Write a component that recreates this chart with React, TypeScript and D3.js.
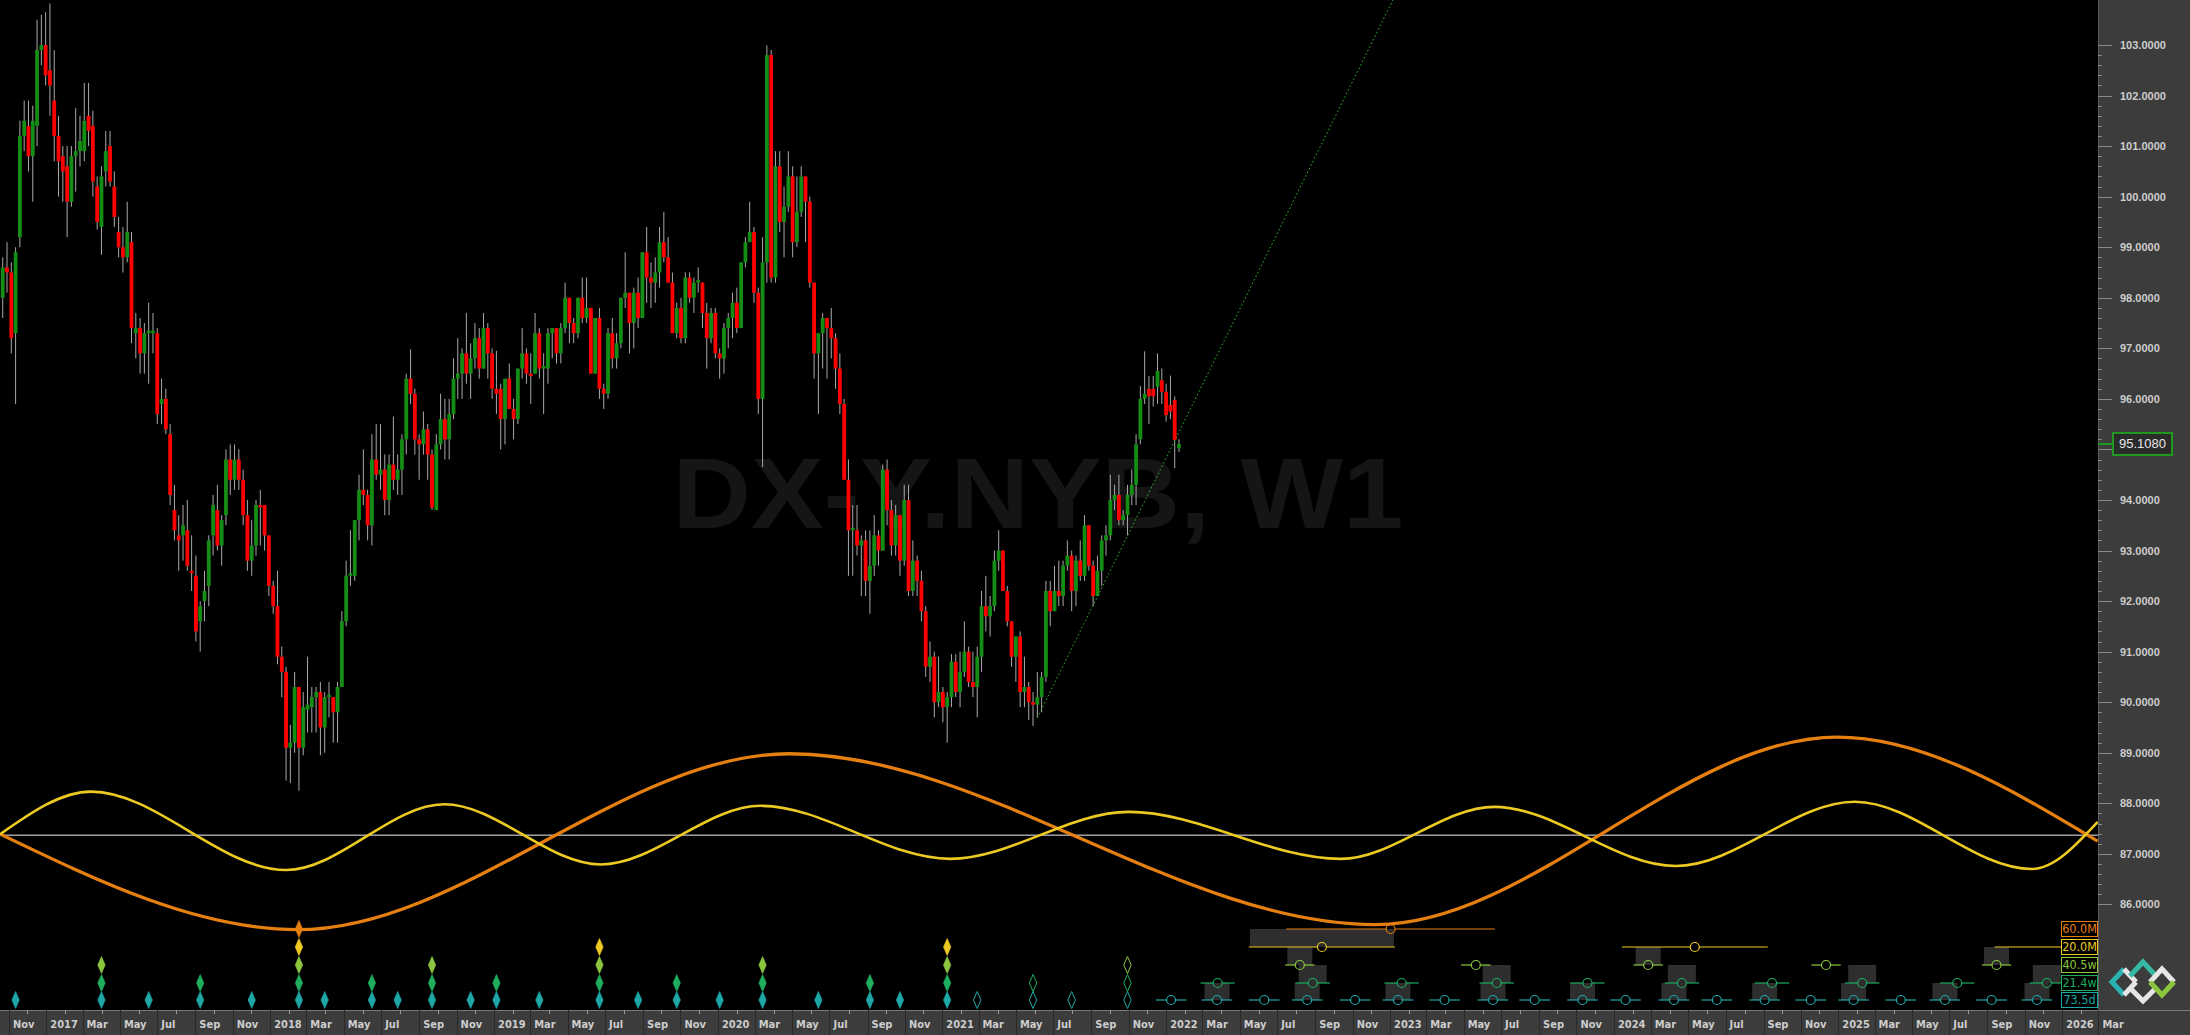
import React, { useEffect } from 'react';
import * as d3 from 'd3';

const W = 2190;
const H = 1035;
const PLOT_RIGHT = 2098;
const AXIS_TOP = 1010;

// ---------- candle data (weekly, [open, high, low, close]) ----------
const firstWeek = '2016-10-17';
const lastWeek = '2022-01-17';

const candles2016 = [
  [98.0, 98.8, 97.6, 98.6], [98.6, 99.1, 98.1, 98.5], [98.5, 98.7, 96.9, 97.2], [97.3, 99.0, 95.9, 98.9],
  [99.2, 101.5, 99.0, 101.2], [101.2, 101.9, 100.9, 101.5], [101.4, 101.9, 100.5, 100.8], [100.8, 101.8, 99.9, 101.5],
  [101.4, 103.5, 101.0, 102.9], [102.9, 103.6, 102.6, 103.0], [103.0, 103.65, 102.2, 102.4],
];
const candles2017 = [
  [102.5, 103.82, 101.6, 102.2], [101.9, 102.9, 100.7, 101.2], [101.2, 101.6, 100.0, 100.7], [100.8, 101.0, 99.9, 100.5],
  [100.6, 101.0, 99.2, 99.9], [99.9, 101.0, 99.8, 100.8], [100.8, 101.75, 100.1, 100.9], [100.9, 101.6, 100.6, 101.1],
  [100.9, 102.25, 100.7, 101.5], [101.6, 102.25, 101.0, 101.3], [101.4, 101.7, 100.0, 100.3], [100.2, 100.4, 99.35, 99.5],
  [99.4, 100.6, 98.85, 100.4], [100.5, 101.3, 100.2, 100.9], [101.0, 101.3, 100.2, 100.3], [100.2, 100.5, 99.4, 99.6],
  [99.3, 99.6, 98.8, 99.0], [99.0, 99.4, 98.5, 98.8], [98.8, 99.9, 98.7, 99.3], [99.1, 99.3, 97.1, 97.4],
  [97.3, 97.7, 96.8, 97.4], [97.4, 97.6, 96.5, 96.9], [96.9, 97.5, 96.5, 97.3], [97.3, 97.9, 96.3, 97.35],
  [97.3, 97.7, 96.9, 97.35], [97.3, 97.4, 95.5, 95.7], [95.9, 96.4, 95.5, 96.0], [96.0, 96.2, 95.3, 95.4],
  [95.3, 95.5, 93.9, 94.1], [93.8, 94.3, 93.2, 93.4], [93.3, 93.7, 92.6, 93.2], [93.3, 93.9, 92.8, 93.5],
  [93.4, 94.0, 92.6, 92.7], [92.6, 93.3, 92.2, 92.55], [92.5, 92.9, 91.2, 91.4], [91.6, 92.0, 91.0, 91.9],
  [92.0, 92.6, 91.6, 92.2], [92.3, 93.3, 91.9, 93.2], [93.3, 94.1, 92.9, 93.9], [93.8, 94.3, 93.0, 93.1],
  [93.1, 93.7, 92.7, 93.6], [93.7, 95.0, 93.5, 94.8], [94.8, 95.1, 94.1, 94.4], [94.4, 95.1, 94.2, 94.8],
  [94.8, 95.0, 94.2, 94.4], [94.4, 94.6, 93.5, 93.7], [93.7, 94.0, 92.6, 92.8], [92.8, 93.6, 92.5, 93.1],
  [93.1, 94.0, 92.9, 93.9], [93.9, 94.2, 93.1, 93.85], [93.9, 93.9, 93.0, 93.3], [93.3, 93.3, 92.1, 92.3],
];
const candles2018 = [
  [92.3, 92.4, 91.75, 91.9], [91.9, 92.6, 90.75, 90.9], [90.9, 91.1, 90.1, 90.6], [90.6, 90.7, 88.45, 89.1],
  [89.1, 89.55, 88.4, 89.2], [89.2, 90.6, 89.0, 90.3], [90.3, 90.3, 88.25, 89.1], [89.1, 90.2, 88.95, 89.9],
  [89.85, 90.9, 89.4, 89.95], [89.9, 90.3, 89.4, 90.1], [90.1, 90.3, 89.4, 90.2], [90.2, 90.4, 88.95, 89.5],
  [89.5, 90.2, 89.0, 90.1], [90.1, 90.4, 89.7, 90.15], [90.1, 90.1, 89.2, 89.8], [89.8, 90.4, 89.2, 90.3],
  [90.3, 91.8, 90.3, 91.6], [91.6, 92.8, 91.5, 92.5], [92.5, 93.4, 92.3, 92.55], [92.5, 93.6, 92.4, 93.6],
  [93.6, 94.5, 93.2, 94.2], [94.2, 95.0, 93.9, 94.1], [94.1, 94.2, 93.2, 93.5], [93.5, 95.3, 93.1, 94.8],
  [94.8, 95.5, 94.4, 94.5], [94.5, 95.5, 94.2, 94.6], [94.6, 94.9, 93.7, 94.0], [94.0, 94.9, 93.7, 94.7],
  [94.7, 95.65, 94.2, 94.4], [94.4, 94.9, 94.1, 94.6], [94.6, 95.3, 94.1, 95.2], [95.2, 96.5, 94.9, 96.4],
  [96.4, 96.98, 95.9, 96.1], [96.1, 96.2, 94.9, 95.2], [95.2, 95.3, 94.4, 95.1], [95.1, 95.75, 94.9, 95.4],
  [95.4, 95.5, 94.4, 94.9], [94.9, 95.0, 93.8, 93.85], [93.8, 95.3, 93.8, 95.1], [95.1, 96.1, 95.0, 95.6],
  [95.6, 96.0, 94.8, 95.2], [95.2, 96.0, 94.8, 95.7], [95.7, 96.8, 95.6, 96.4], [96.4, 97.2, 96.0, 96.5],
  [96.5, 97.0, 96.0, 96.9], [96.9, 97.7, 96.3, 96.5], [96.5, 97.1, 96.0, 96.8], [96.8, 97.5, 96.6, 97.2],
  [97.2, 97.4, 96.4, 96.6], [96.6, 97.7, 96.6, 97.4], [97.4, 97.5, 96.4, 96.9], [96.9, 97.0, 96.0, 96.2],
  [96.2, 96.95, 95.7, 96.1],
];
const candles2019 = [
  [96.2, 96.3, 95.0, 95.6], [95.6, 96.4, 95.1, 96.4], [96.4, 96.7, 95.8, 95.8], [95.8, 96.0, 95.2, 95.6],
  [95.6, 96.6, 95.5, 96.6], [96.6, 97.4, 96.4, 96.9], [96.9, 97.0, 96.3, 96.5], [96.5, 96.9, 95.9, 96.45],
  [96.5, 97.7, 96.5, 97.3], [97.3, 97.4, 96.4, 96.6], [96.6, 96.9, 95.7, 96.65], [96.6, 97.4, 96.3, 97.3],
  [97.3, 97.4, 96.8, 97.4], [97.4, 97.4, 96.7, 96.9], [96.9, 97.5, 96.7, 97.4], [97.4, 98.3, 97.3, 98.0],
  [98.0, 98.0, 97.1, 97.5], [97.5, 97.6, 97.1, 97.3], [97.3, 98.0, 97.2, 98.0], [98.0, 98.4, 97.5, 97.6],
  [97.6, 98.4, 97.5, 97.8], [97.8, 97.8, 96.5, 96.5], [96.5, 97.6, 96.5, 97.6], [97.6, 97.8, 96.0, 96.2],
  [96.2, 96.3, 95.8, 96.1], [96.1, 97.4, 96.0, 97.3], [97.3, 97.6, 96.6, 96.8], [96.8, 97.3, 96.6, 97.1],
  [97.1, 98.0, 97.0, 98.0], [98.0, 98.9, 97.8, 98.1], [98.1, 98.1, 96.9, 97.5], [97.5, 98.2, 97.0, 98.1],
  [98.1, 98.4, 97.4, 97.6], [97.6, 98.9, 97.6, 98.9], [98.9, 99.4, 97.9, 98.4], [98.4, 98.7, 97.8, 98.3],
  [98.3, 98.8, 97.9, 98.5], [98.5, 99.4, 98.2, 99.1], [99.1, 99.7, 98.7, 98.8], [98.8, 99.2, 98.3, 98.3],
  [98.3, 98.5, 97.3, 97.3], [97.3, 97.9, 97.2, 97.8], [97.8, 98.0, 97.1, 97.2], [97.2, 98.5, 97.1, 98.4],
  [98.4, 98.5, 97.9, 98.0], [98.0, 98.4, 97.7, 98.3], [98.3, 98.6, 98.1, 98.35], [98.3, 98.3, 97.4, 97.7],
  [97.7, 97.9, 96.6, 97.2], [97.2, 97.8, 97.1, 97.7], [97.7, 97.8, 96.8, 96.9], [96.9, 97.0, 96.4, 96.8],
];
const candles2020 = [
  [96.8, 97.5, 96.5, 97.4], [97.4, 97.7, 97.0, 97.6], [97.6, 98.1, 97.2, 97.9], [97.9, 98.2, 97.3, 97.4],
  [97.4, 98.7, 97.4, 98.7], [98.7, 99.2, 98.6, 99.1], [99.1, 99.9, 99.1, 99.3], [99.3, 99.4, 97.9, 98.1],
  [98.1, 98.2, 95.7, 96.0], [96.0, 99.2, 94.65, 98.7], [98.7, 102.99, 98.3, 102.8], [102.8, 102.9, 98.3, 98.4],
  [98.4, 100.9, 98.3, 100.6], [100.6, 100.9, 99.3, 99.5], [99.5, 100.2, 98.8, 99.8], [99.8, 100.9, 99.7, 100.4],
  [100.4, 100.6, 98.8, 99.1], [99.1, 100.4, 99.0, 99.7], [99.7, 100.6, 99.6, 100.4], [100.4, 100.4, 99.1, 99.9],
  [99.9, 100.0, 98.2, 98.3], [98.3, 98.3, 96.4, 96.9], [96.9, 97.3, 95.7, 97.3], [97.3, 97.7, 96.6, 97.6],
  [97.6, 97.6, 96.4, 97.4], [97.4, 97.8, 96.8, 97.2], [97.2, 97.3, 96.2, 96.6], [96.6, 96.9, 95.7, 95.9],
  [95.9, 96.0, 94.4, 94.4], [94.4, 94.8, 92.5, 93.4], [93.4, 93.9, 92.5, 93.45], [93.4, 93.9, 92.9, 93.1],
  [93.1, 93.3, 92.1, 93.2], [93.2, 93.4, 92.1, 92.4], [92.4, 93.4, 91.75, 92.7], [92.7, 93.7, 92.5, 93.3],
  [93.3, 93.4, 92.7, 93.0], [93.0, 94.7, 93.0, 94.6], [94.6, 94.8, 93.5, 93.8], [93.8, 94.0, 92.9, 93.1],
  [93.1, 93.9, 92.9, 93.7], [93.7, 93.7, 92.5, 92.8], [92.8, 94.3, 92.7, 94.0], [94.0, 94.3, 92.1, 92.2],
  [92.2, 93.2, 92.1, 92.8], [92.8, 92.9, 92.1, 92.4], [92.4, 92.6, 91.6, 91.8], [91.8, 91.9, 90.5, 90.7],
  [90.7, 91.2, 90.4, 90.9], [90.9, 91.0, 89.7, 90.0], [90.0, 90.9, 89.9, 90.2], [90.2, 90.3, 89.6, 89.9],
];
const candles2021 = [
  [89.9, 90.2, 89.2, 90.1], [90.1, 90.95, 89.9, 90.8], [90.8, 90.95, 90.1, 90.2], [90.2, 91.0, 89.9, 90.6],
  [90.6, 91.6, 90.5, 91.0], [91.0, 91.1, 90.3, 90.4], [90.4, 91.0, 90.1, 90.3], [90.3, 91.1, 89.7, 90.9],
  [90.9, 92.2, 90.6, 91.9], [91.9, 92.5, 91.4, 91.7], [91.7, 92.1, 91.3, 91.9], [91.9, 93.0, 91.8, 92.8],
  [92.8, 93.4, 92.6, 93.0], [93.0, 93.0, 92.2, 92.2], [92.2, 92.3, 91.5, 91.6], [91.6, 91.6, 90.7, 90.9],
  [90.9, 91.3, 90.4, 91.3], [91.3, 91.4, 89.9, 90.2], [90.2, 90.9, 89.9, 90.3], [90.3, 90.4, 89.65, 90.0],
  [90.0, 90.2, 89.53, 89.95], [89.95, 90.6, 89.7, 90.1], [90.1, 90.6, 89.8, 90.5], [90.5, 92.4, 90.4, 92.2],
  [92.2, 92.4, 91.5, 91.8], [91.8, 92.7, 91.8, 92.2], [92.2, 92.8, 91.9, 92.1], [92.1, 92.8, 91.9, 92.7],
  [92.7, 93.2, 92.6, 92.9], [92.9, 93.0, 91.8, 92.2], [92.2, 92.9, 91.9, 92.8], [92.8, 93.2, 92.4, 92.5],
  [92.5, 93.7, 92.4, 93.5], [93.5, 93.5, 92.6, 92.7], [92.7, 92.8, 91.9, 92.1], [92.1, 92.9, 92.1, 92.6],
  [92.6, 93.3, 92.3, 93.2], [93.2, 93.5, 92.9, 93.3], [93.3, 94.5, 93.2, 94.0], [94.0, 94.3, 93.8, 94.1],
  [94.1, 94.5, 93.5, 93.6], [93.6, 93.8, 93.5, 93.7], [93.7, 94.3, 93.3, 94.1], [94.1, 94.6, 93.9, 94.3],
  [94.3, 95.3, 93.9, 95.1], [95.2, 96.25, 95.1, 96.0], [96.0, 96.94, 95.9, 96.1], [96.2, 96.45, 95.5, 96.05],
  [96.2, 96.45, 95.85, 96.05], [96.24, 96.9, 95.9, 96.55], [96.37, 96.6, 95.9, 96.14], [96.14, 96.3, 95.55, 95.68],
];
const candles2022 = [
  [95.88, 96.46, 95.6, 95.75], [95.98, 96.05, 94.63, 95.19], [95.02, 95.2, 94.95, 95.108],
];

// ---------- axis values ----------
const priceTicks = [86, 87, 88, 89, 90, 91, 92, 93, 94, 95, 96, 97, 98, 99, 100, 101, 102, 103];
const lastPrice = 95.108;
const levelLine = 87.37;
const axisStart = '2016-11-01';
const axisEnd = '2026-04-01';

// ---------- cycle waves (edge values and extrema, date / price) ----------
const wave20M: [string, number][] = [
  ['2016-10-13', 87.39], ['2017-03-10', 88.23], ['2018-01-22', 86.68], ['2018-10-07', 87.98],
  ['2019-06-19', 86.79], ['2020-03-06', 87.95], ['2021-01-09', 86.9], ['2021-10-27', 87.83],
  ['2022-10-08', 86.9], ['2023-06-15', 87.93], ['2024-04-06', 86.76], ['2025-01-23', 88.03],
  ['2025-11-08', 86.7], ['2026-02-23', 87.63],
];
const wave60M: [string, number][] = [
  ['2016-10-13', 87.39], ['2018-02-10', 85.5], ['2020-04-21', 88.98], ['2022-12-04', 85.6],
  ['2024-12-25', 89.31], ['2026-02-23', 87.25],
];
const trendAnchors: [string, number][] = [['2021-05-31', 89.69], ['2022-02-20', 96.18]];

// ---------- cycle troughs (diamonds) ----------
const troughs735d = ['2016-11-07', '2017-03-27', '2017-06-12', '2017-09-04', '2017-11-27', '2018-02-12', '2018-03-26',
  '2018-06-11', '2018-07-23', '2018-09-17', '2018-11-19', '2018-12-31', '2019-03-11', '2019-06-17', '2019-08-19',
  '2019-10-21', '2019-12-30', '2020-03-09', '2020-06-08', '2020-08-31', '2020-10-19', '2021-01-04'];
const open735d = ['2021-02-22', '2021-05-24', '2021-07-26', '2021-10-25'];
const troughs214w = ['2017-03-27', '2017-09-04', '2018-02-12', '2018-06-11', '2018-09-17', '2018-12-31', '2019-06-17',
  '2019-10-21', '2020-03-09', '2020-08-31', '2021-01-04'];
const open214w = ['2021-05-24', '2021-10-25'];
const troughs405w = ['2017-03-27', '2018-02-12', '2018-09-17', '2019-06-17', '2020-03-09', '2021-01-04'];
const open405w = ['2021-10-25'];
const troughs20M = ['2018-02-12', '2019-06-17', '2021-01-04'];
const open20M: string[] = [];
const troughs60M = ['2018-02-12'];
const open60M: string[] = [];

// ---------- projected troughs ----------
const proj735d = ['2022-01-04', '2022-03-20', '2022-06-05', '2022-08-14', '2022-10-31', '2023-01-09', '2023-03-26',
  '2023-06-13', '2023-08-20', '2023-11-06', '2024-01-15', '2024-04-03', '2024-06-12', '2024-08-29', '2024-11-12',
  '2025-01-21', '2025-04-08', '2025-06-19', '2025-09-03', '2025-11-16'];
const nested735d = [false, true, false, true, false, true, false, true, false, true, false, true, false, true, false,
  true, false, true, false, true];
const proj214w = ['2022-03-21', '2022-08-23', '2023-01-15', '2023-06-19', '2023-11-14', '2024-04-16', '2024-09-10',
  '2025-02-04', '2025-07-09', '2025-12-02'];
const nested214w = [false, true, false, true, false, true, false, true, false, true];
const proj405w = ['2022-08-02', '2023-05-16', '2024-02-21', '2024-12-07', '2025-09-11'];
const nested405w = [true, false, true, false, true];
const proj20M = ['2022-09-07', '2024-05-07', '2026-01-05'];
const nested20M = [true, false, false];
const proj60M = ['2022-12-28'];
const nested60M = [false];

const cycleLabels = ['60.0M', '20.0M', '40.5w', '21.4w', '73.5d'];
const uncertaintyDays = [170, 119, 24, 28, 25];

// ---------- styles ----------
const BULL = '#138d13';
const BEAR = '#ff0000';
const WICK = '#a9a9a9';
const PANEL = '#3c3c3c';
const TEXT = '#cdcdcd';
const COLORS = ['#e57f10', '#ecca22', '#8cc63f', '#1fae5e', '#1fa6a6'];
const ROW_Y = [929, 947, 965, 983, 1000];
const BOX_HALF = [0, 72, 12.5, 14, 12.5];

const parse = (s: string) => new Date(s + 'T00:00:00Z');

export default function App() {
  useEffect(() => {
    document.body.style.margin = '0';
    document.body.style.background = '#000';
  }, []);

  const DAY = 864e5;
  const anchor = parse(lastWeek).getTime();
  const pxPerWeek = 4.293;
  const anchorX = 1179;
  const x = d3.scaleUtc()
    .domain([new Date(anchor - (anchorX / pxPerWeek) * 7 * DAY), new Date(anchor + ((W - anchorX) / pxPerWeek) * 7 * DAY)])
    .range([0, W]);
  const y = d3.scaleLinear().domain([103, 86]).range([45, 904.4]);

  const ohlc = [...candles2016, ...candles2017, ...candles2018, ...candles2019, ...candles2020, ...candles2021, ...candles2022];
  const weeks = d3.utcMonday.range(parse(firstWeek), new Date(parse(lastWeek).getTime() + DAY));
  const candles = ohlc.map((c, i) => ({ date: weeks[i], o: c[0], h: c[1], l: c[2], c: c[3] }));

  const waveLine = d3.line<[string, number]>()
    .x((d) => x(parse(d[0])))
    .y((d) => y(d[1]))
    .curve(d3.curveMonotoneX);

  // trendline extended to top of plot
  const t0 = { x: x(parse(trendAnchors[0][0])), y: y(trendAnchors[0][1]) };
  const t1 = { x: x(parse(trendAnchors[1][0])), y: y(trendAnchors[1][1]) };
  const slope = (t1.y - t0.y) / (t1.x - t0.x);
  const tEnd = { x: t0.x + (0 - t0.y) / slope, y: 0 };

  const minorTicks = y.ticks(100).filter((v) => y(v) > 2 && y(v) < AXIS_TOP - 2);
  const months = d3.utcMonth.range(parse(axisStart), parse(axisEnd));
  const labelMonths = d3.utcMonth.every(2)!.range(parse(axisStart), parse(axisEnd));

  const diamond = (cx: number, cy: number) =>
    `${cx},${cy - 8.5} ${cx + 3.7},${cy} ${cx},${cy + 8.5} ${cx - 3.7},${cy}`;

  const troughSets = [
    [troughs60M, open60M], [troughs20M, open20M], [troughs405w, open405w], [troughs214w, open214w], [troughs735d, open735d],
  ];
  const projSets = [
    [proj60M, nested60M], [proj20M, nested20M], [proj405w, nested405w], [proj214w, nested214w], [proj735d, nested735d],
  ] as [string[], boolean[]][];

  const fontMain = "'Liberation Sans', Arial, sans-serif";
  const fontNarrow = "'Liberation Sans Narrow', 'DejaVu Sans Condensed', 'Liberation Sans', sans-serif";
  const lastY = y(lastPrice);

  return (
    <svg width={W} height={H} style={{ position: 'absolute', left: 0, top: 0, display: 'block' }}>
      <defs>
        <clipPath id="plot">
          <rect x={0} y={0} width={PLOT_RIGHT} height={AXIS_TOP} />
        </clipPath>
      </defs>
      <rect x={0} y={0} width={W} height={H} fill="#000" />

      {/* watermark */}
      <text x={1038} y={528} textAnchor="middle" fontFamily={fontMain} fontWeight="bold" fontSize={100}
        fill="#151515" textLength={731} lengthAdjust="spacingAndGlyphs">DX-Y.NYB, W1</text>

      <g clipPath="url(#plot)">
        {/* level line */}
        <line x1={0} x2={PLOT_RIGHT} y1={y(levelLine)} y2={y(levelLine)} stroke="#f0f0f0" strokeWidth={1} />
        {/* waves */}
        <path d={waveLine(wave60M) || ''} fill="none" stroke={COLORS[0]} strokeWidth={3.3} />
        <path d={waveLine(wave20M) || ''} fill="none" stroke={COLORS[1]} strokeWidth={2.6} />

        {/* candles */}
        {candles.map((c, i) => {
          const cx = x(c.date);
          const top = y(Math.max(c.o, c.c));
          const bot = y(Math.min(c.o, c.c));
          return (
            <g key={i}>
              <line x1={cx} x2={cx} y1={y(c.h)} y2={y(c.l)} stroke={WICK} strokeWidth={1} />
              <rect x={cx - 1.9} width={3.8} y={top} height={Math.max(1.5, bot - top)} fill={c.c >= c.o ? BULL : BEAR} />
            </g>
          );
        })}

        {/* trend line */}
        <line x1={t0.x} y1={t0.y} x2={tEnd.x} y2={tEnd.y} stroke="#2fb52f" strokeWidth={1} strokeDasharray="1.6 2.4" />

        {/* trough diamonds */}
        {troughSets.map(([filled, open], r) => (
          <g key={'d' + r}>
            {filled.map((d, i) => (
              <polygon key={'f' + i} points={diamond(x(parse(d)), ROW_Y[r])} fill={COLORS[r]} stroke={COLORS[r]} strokeWidth={0.6} />
            ))}
            {open.map((d, i) => (
              <polygon key={'o' + i} points={diamond(x(parse(d)), ROW_Y[r])} fill="none" stroke={COLORS[r]} strokeWidth={1} />
            ))}
          </g>
        ))}

        {/* projection boxes */}
        {projSets.map(([dates, nested], r) => (
          <g key={'b' + r}>
            {dates.map((d, i) => nested[i] && r > 0 ? (
              <rect key={i} x={x(parse(d)) - BOX_HALF[r]} width={BOX_HALF[r] * 2} y={ROW_Y[r - 1]} height={ROW_Y[r] - ROW_Y[r - 1]} fill="#2e2e2e" />
            ) : null)}
          </g>
        ))}
        {/* projection lines + circles */}
        {projSets.map(([dates], r) => (
          <g key={'p' + r}>
            {dates.map((d, i) => {
              const cx = x(parse(d));
              const half = x(new Date(parse(d).getTime() + uncertaintyDays[r] * DAY)) - cx;
              const cy = ROW_Y[r];
              return (
                <g key={i}>
                  <line x1={cx - half} x2={cx - 4.5} y1={cy} y2={cy} stroke={COLORS[r]} strokeWidth={1.2} />
                  <line x1={cx + 4.5} x2={cx + half} y1={cy} y2={cy} stroke={COLORS[r]} strokeWidth={1.2} />
                  <circle cx={cx} cy={cy} r={4.5} fill="none" stroke={COLORS[r]} strokeWidth={1.2} />
                </g>
              );
            })}
          </g>
        ))}
      </g>

      {/* cycle labels */}
      {cycleLabels.map((lab, r) => (
        <g key={lab}>
          <rect x={2061.5} y={ROW_Y[r] - 7.5} width={36} height={15} fill="#000" stroke={COLORS[r]} strokeWidth={1} />
          <text x={2079.5} y={ROW_Y[r] + 4.3} textAnchor="middle" fontFamily={fontNarrow} fontSize={12.5} fill={COLORS[r]}>{lab}</text>
        </g>
      ))}

      {/* right price panel */}
      <rect x={PLOT_RIGHT} y={0} width={W - PLOT_RIGHT} height={H} fill={PANEL} />
      <line x1={PLOT_RIGHT + 0.5} x2={PLOT_RIGHT + 0.5} y1={0} y2={AXIS_TOP} stroke="#5c5c5c" />
      {minorTicks.map((v, i) => (
        <line key={'mt' + i} x1={PLOT_RIGHT} x2={PLOT_RIGHT + 4} y1={Math.round(y(v)) + 0.5} y2={Math.round(y(v)) + 0.5} stroke="#8a8a8a" />
      ))}
      {priceTicks.map((p) => (
        <g key={'pt' + p}>
          <line x1={PLOT_RIGHT} x2={PLOT_RIGHT + 14} y1={Math.round(y(p)) + 0.5} y2={Math.round(y(p)) + 0.5} stroke="#8a8a8a" />
          {Math.abs(y(p) - lastY) > 14 ? (
            <text x={2120} y={y(p) + 4} fontFamily={fontMain} fontWeight="bold" fontSize={11} fill={TEXT}>{p.toFixed(4)}</text>
          ) : null}
        </g>
      ))}
      {/* current price */}
      <line x1={PLOT_RIGHT} x2={2113} y1={lastY} y2={lastY} stroke="#1f9a1f" strokeWidth={2} />
      <rect x={2113} y={lastY - 11} width={59} height={22} fill="#2b2b2b" stroke="#1f9a1f" strokeWidth={2} />
      <text x={2142.5} y={lastY + 4.5} textAnchor="middle" fontFamily={fontMain} fontSize={13} fill="#e8e8e8">{lastPrice.toFixed(4)}</text>

      {/* bottom time axis */}
      <rect x={0} y={AXIS_TOP} width={W} height={H - AXIS_TOP} fill={PANEL} />
      <line x1={0} x2={W} y1={AXIS_TOP + 0.5} y2={AXIS_TOP + 0.5} stroke="#7a7a7a" />
      {months.map((m, i) => (
        <line key={'mm' + i} x1={Math.round(x(m)) - 2.5} x2={Math.round(x(m)) - 2.5} y1={AXIS_TOP} y2={AXIS_TOP + 4} stroke="#9a9a9a" />
      ))}
      {labelMonths.map((m, i) => (
        <g key={'lm' + i}>
          <line x1={Math.round(x(m)) - 2.5} x2={Math.round(x(m)) - 2.5} y1={AXIS_TOP} y2={H} stroke="#2a2a2a" />
          <text x={x(m) + 1} y={1028} fontFamily={fontNarrow} fontWeight="bold" fontSize={11} fill={TEXT}>
            {m.getUTCMonth() === 0 ? d3.utcFormat('%Y')(m) : d3.utcFormat('%b')(m)}
          </text>
        </g>
      ))}

      {/* logo */}
      <g strokeWidth={5} fill="none" strokeLinejoin="miter">
        <polyline points="2124,995 2112,982 2124,969" stroke="#2bb3b3" />
        <polyline points="2124,969 2136,982" stroke="#e6e6e6" />
        <polyline points="2136,982 2124,995" stroke="#e6e6e6" />
        <polyline points="2130,976 2143,962 2156,976" stroke="#35b9a5" />
        <polyline points="2130,988 2143,1001 2156,988" stroke="#e6e6e6" />
        <polyline points="2150,982 2162,969 2174,982" stroke="#e6e6e6" />
        <polyline points="2174,982 2162,995 2150,982" stroke="#8cc63f" />
      </g>
    </svg>
  );
}
